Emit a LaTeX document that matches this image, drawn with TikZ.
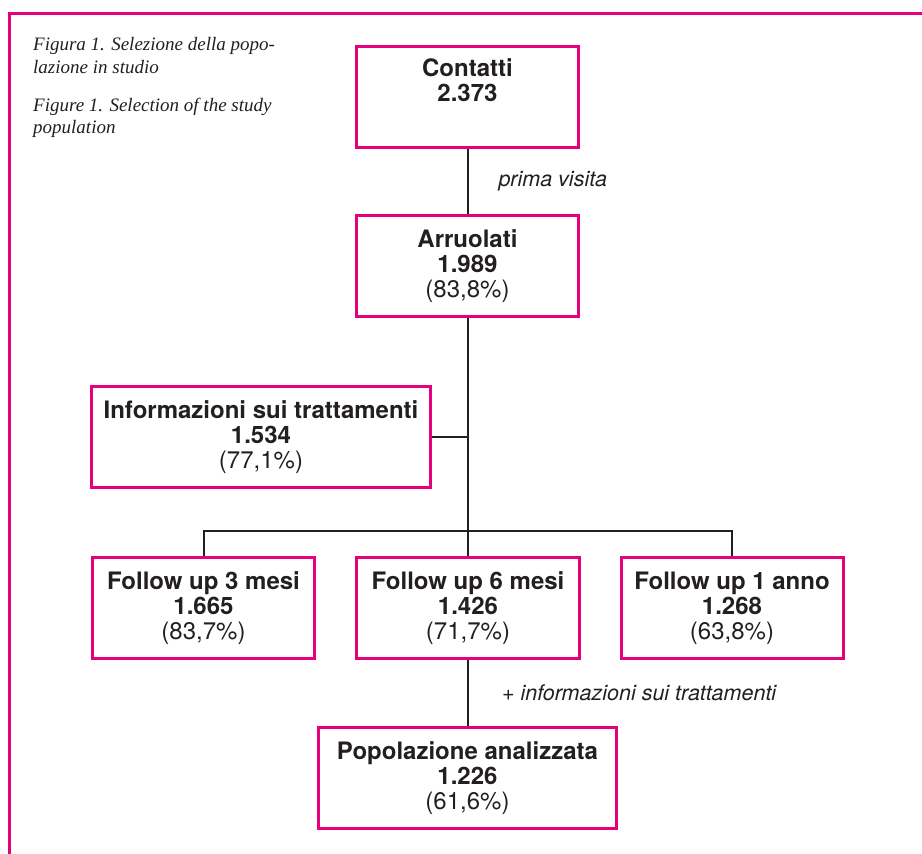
\documentclass[tikz,border=0pt]{standalone}
\usepackage{fontspec}
\setmainfont{TeX Gyre Heros}
\newfontfamily\capfont{Liberation Serif}
\usetikzlibrary{positioning}

\definecolor{boxpink}{RGB}{230,0,126}
\definecolor{inkgray}{RGB}{35,31,32}

\tikzset{
	box/.style={draw=boxpink, line width=3pt, minimum width=222pt, minimum height=101pt,
		align=center, inner sep=0pt, text=inkgray, font=\fontsize{24}{25}\selectfont},
	conn/.style={draw=inkgray, line width=2pt},
	lbl/.style={inner sep=0pt, text=inkgray, font=\fontsize{21.5}{24}\selectfont\itshape},
	captxt/.style={inner sep=0pt, align=left, anchor=north west, text=inkgray,
		font=\capfont\itshape\fontsize{19}{22.5}\selectfont}
}

\begin{document}
\begin{tikzpicture}[x=1pt, y=-1pt] % pixel-like units, y pointing down
	
	\useasboundingbox (0,0) rectangle (922,854);
	
	% Pink frame (open to the right and bottom)
	\draw[boxpink, line width=3pt] (922,13) -- (9,13) -- (9,854);
	
	% Caption
	\node[captxt] (capita) at (33,37.5) {Figura 1. Selezione della popo-\\lazione in studio};
	\node[captxt] (capeng) at (33,97.5) {Figure 1. Selection of the study\\population};
	
	% Boxes
	\node[box] (contatti) at (467.5,96.5) {\textbf{Contatti}\\\textbf{2.373}\\\strut};
	\node[box] (arruolati) at (467.5,266) {\textbf{Arruolati}\\\textbf{1.989}\\(83,8\%)};
	\node[box, minimum width=339pt] (info) at (261,437) {\textbf{Informazioni sui trattamenti}\\\textbf{1.534}\\(77,1\%)};
	\node[box] (fu3) at (203.5,608) {\textbf{Follow up 3 mesi}\\\textbf{1.665}\\(83,7\%)};
	\node[box, minimum width=223pt] (fu6) at (468,608) {\textbf{Follow up 6 mesi}\\\textbf{1.426}\\(71,7\%)};
	\node[box] (fu12) at (732,608) {\textbf{Follow up 1 anno}\\\textbf{1.268}\\(63,8\%)};
	\node[box, minimum width=298pt] (analizzata) at (467.5,778) {\textbf{Popolazione analizzata}\\\textbf{1.226}\\(61,6\%)};
	
	% Branching point of the trunk
	\coordinate (split) at (468,531);
	
	% Connectors
	\draw[conn] (contatti) -- (arruolati) node[lbl, midway, right=30pt] {prima visita};
	\draw[conn] (arruolati.south -| split) -- (fu6.north -| split);
	\draw[conn] (info) -- (info -| split);
	\draw[conn] (fu3) |- (split) -| (fu12);
	\draw[conn] (fu6.south -| split) -- (analizzata.north -| split) node[lbl, midway, right=33pt] {+ informazioni sui trattamenti};
	
\end{tikzpicture}
\end{document}
